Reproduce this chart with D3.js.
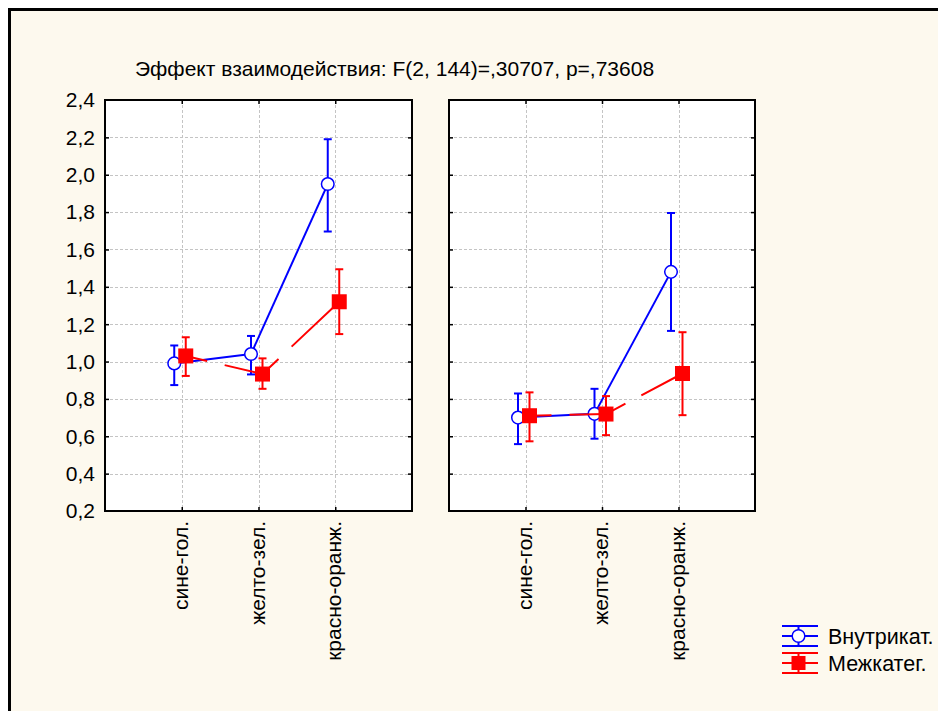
<!DOCTYPE html>
<html>
<head>
<meta charset="utf-8">
<script src="https://cdn.jsdelivr.net/npm/d3@7"></script>
<style>
  html, body { margin: 0; padding: 0; background: #ffffff; }
  svg { display: block; }
  text { font-family: "Liberation Sans", Arial, sans-serif; fill: #000; }
</style>
</head>
<body>
<svg id="chart" width="938" height="711"></svg>
<script>
// ---------- data ----------
const title = "Эффект взаимодействия: F(2, 144)=,30707, p=,73608";
const categories = ["сине-гол.", "желто-зел.", "красно-оранж."];
const yTicks = [0.2, 0.4, 0.6, 0.8, 1.0, 1.2, 1.4, 1.6, 1.8, 2.0, 2.2, 2.4];
const seriesNames = ["Внутрикат.", "Межкатег."];

// panel 1 (left), panel 2 (right)
const innerMean  = [[0.99, 1.04, 1.95], [0.70, 0.72, 1.48]];
const innerHigh  = [[1.086, 1.137, 2.19], [0.829, 0.854, 1.795]];
const innerLow   = [[0.874, 0.931, 1.696], [0.558, 0.587, 1.164]];
const betweenMean = [[1.03, 0.933, 1.32], [0.71, 0.719, 0.936]];
const betweenHigh = [[1.13, 1.017, 1.494], [0.835, 0.815, 1.157]];
const betweenLow  = [[0.923, 0.854, 1.147], [0.573, 0.606, 0.713]];

// ---------- layout ----------
const svg = d3.select("#chart");
const W = 938, H = 711;
const colBlue = "#0000ff", colRed = "#ff0000";
const FS = 21;

// background with frame
svg.append("rect").attr("x", 8).attr("y", 8).attr("width", W - 8).attr("height", H - 8).attr("fill", "#fdf9ee");
svg.append("path").attr("d", `M9.5,${H} V9.5 H${W}`).attr("fill", "none").attr("stroke", "#000").attr("stroke-width", 3);

// title
svg.append("text").attr("x", 135).attr("y", 76).attr("font-size", FS).text(title);

const yTop = 100, yBottom = 511;
const panelX = [[105, 412], [449, 755]];
const y = d3.scaleLinear().domain([0.2, 2.4]).range([yBottom, yTop]);
const fmt = v => d3.format(".1f")(v).replace(".", ",");

const series = [
  { name: seriesNames[0], color: colBlue, mean: innerMean, hi: innerHigh, lo: innerLow, off: -7.5, marker: "circle" },
  { name: seriesNames[1], color: colRed, mean: betweenMean, hi: betweenHigh, lo: betweenLow, off: 4, marker: "square" }
];

panelX.forEach((px, p) => {
  const g = svg.append("g");
  const x = d3.scalePoint().domain(categories).range(px).padding(1);
  g.append("rect").attr("x", px[0]).attr("y", yTop).attr("width", px[1] - px[0]).attr("height", yBottom - yTop).attr("fill", "#fff");
  // grid
  g.selectAll(".hg").data(yTicks.slice(1, -1)).join("line")
    .attr("x1", px[0]).attr("x2", px[1]).attr("y1", d => Math.round(y(d)) + 0.5).attr("y2", d => Math.round(y(d)) + 0.5)
    .attr("stroke", "#c4c4c4").attr("stroke-width", 1).attr("stroke-dasharray", "3,2");
  g.selectAll(".vg").data(categories).join("line")
    .attr("x1", d => Math.round(x(d)) + 0.5).attr("x2", d => Math.round(x(d)) + 0.5).attr("y1", yTop).attr("y2", yBottom)
    .attr("stroke", "#c4c4c4").attr("stroke-width", 1).attr("stroke-dasharray", "3,2");
  // axes with inner ticks
  const axL = d3.axisRight(y).tickValues(yTicks.slice(1, -1)).tickSize(4).tickFormat("");
  const axR = d3.axisLeft(y).tickValues(yTicks.slice(1, -1)).tickSize(4).tickFormat("");
  const axT = d3.axisBottom(x).tickSize(4).tickFormat("");
  const axB = d3.axisTop(x).tickSize(4).tickFormat("");
  [[axL, `translate(${px[0]},0)`], [axR, `translate(${px[1]},0)`], [axT, `translate(0,${yTop})`], [axB, `translate(0,${yBottom})`]]
    .forEach(([ax, tr]) => {
      const a = g.append("g").attr("transform", tr).call(ax);
      a.select(".domain").remove();
      a.selectAll(".tick line").attr("stroke", "#000").attr("stroke-width", 1.5);
    });
  // frame
  g.append("rect").attr("x", px[0]).attr("y", yTop).attr("width", px[1] - px[0]).attr("height", yBottom - yTop)
    .attr("fill", "none").attr("stroke", "#000").attr("stroke-width", 2);

  if (p === 0) {
    g.selectAll(".yl").data(yTicks).join("text")
      .attr("x", 95).attr("y", d => y(d)).attr("dy", "0.35em")
      .attr("text-anchor", "end").attr("font-size", FS).text(fmt);
  }
  g.selectAll(".xl").data(categories).join("text")
    .attr("transform", d => `translate(${x(d) + 6},521) rotate(-90)`)
    .attr("text-anchor", "end").attr("font-size", FS).text(d => d);

  series.forEach(s => {
    const pts = categories.map((c, i) => ({ cx: x(c) + s.off, m: s.mean[p][i], hi: s.hi[p][i], lo: s.lo[p][i] }));
    const sg = g.append("g");
    for (let i = 0; i < pts.length - 1; i++) {
      const ln = sg.append("line")
        .attr("x1", pts[i].cx).attr("y1", y(pts[i].m)).attr("x2", pts[i + 1].cx).attr("y2", y(pts[i + 1].m))
        .attr("stroke", s.color).attr("stroke-width", 2);
      if (s.marker === "square") ln.attr("stroke-dasharray", "22,18,400");
    }
    pts.forEach(d => {
      sg.append("line").attr("x1", d.cx).attr("x2", d.cx).attr("y1", y(d.hi)).attr("y2", y(d.lo))
        .attr("stroke", s.color).attr("stroke-width", 2);
      [d.hi, d.lo].forEach(v => sg.append("line").attr("x1", d.cx - 4).attr("x2", d.cx + 4)
        .attr("y1", y(v)).attr("y2", y(v)).attr("stroke", s.color).attr("stroke-width", 2));
    });
    pts.forEach(d => {
      if (s.marker === "circle") {
        sg.append("circle").attr("cx", d.cx).attr("cy", y(d.m)).attr("r", 6.3)
          .attr("fill", "#fff").attr("stroke", s.color).attr("stroke-width", 1.5);
      } else {
        sg.append("rect").attr("x", d.cx - 7.5).attr("y", y(d.m) - 7.5).attr("width", 15).attr("height", 15)
          .attr("fill", s.color);
      }
    });
  });
});

// ---------- legend ----------
const leg = svg.append("g");
const legY = [636, 663];
series.forEach((s, i) => {
  const cy = legY[i];
  [-10, 0, 10].forEach(dy => leg.append("line").attr("x1", 782).attr("x2", 818).attr("y1", cy + dy).attr("y2", cy + dy)
    .attr("stroke", s.color).attr("stroke-width", 2));
  leg.append("line").attr("x1", 798.5).attr("x2", 798.5).attr("y1", cy - 10).attr("y2", cy + 10).attr("stroke", s.color).attr("stroke-width", 2);
  if (s.marker === "circle") {
    leg.append("circle").attr("cx", 798.5).attr("cy", cy).attr("r", 6.3).attr("fill", "#fff").attr("stroke", s.color).attr("stroke-width", 1.5);
  } else {
    leg.append("rect").attr("x", 791.5).attr("y", cy - 7).attr("width", 14).attr("height", 14).attr("fill", s.color);
  }
  leg.append("text").attr("x", 828).attr("y", cy + 8).attr("font-size", 21.5).text(s.name);
});
</script>
</body>
</html>
